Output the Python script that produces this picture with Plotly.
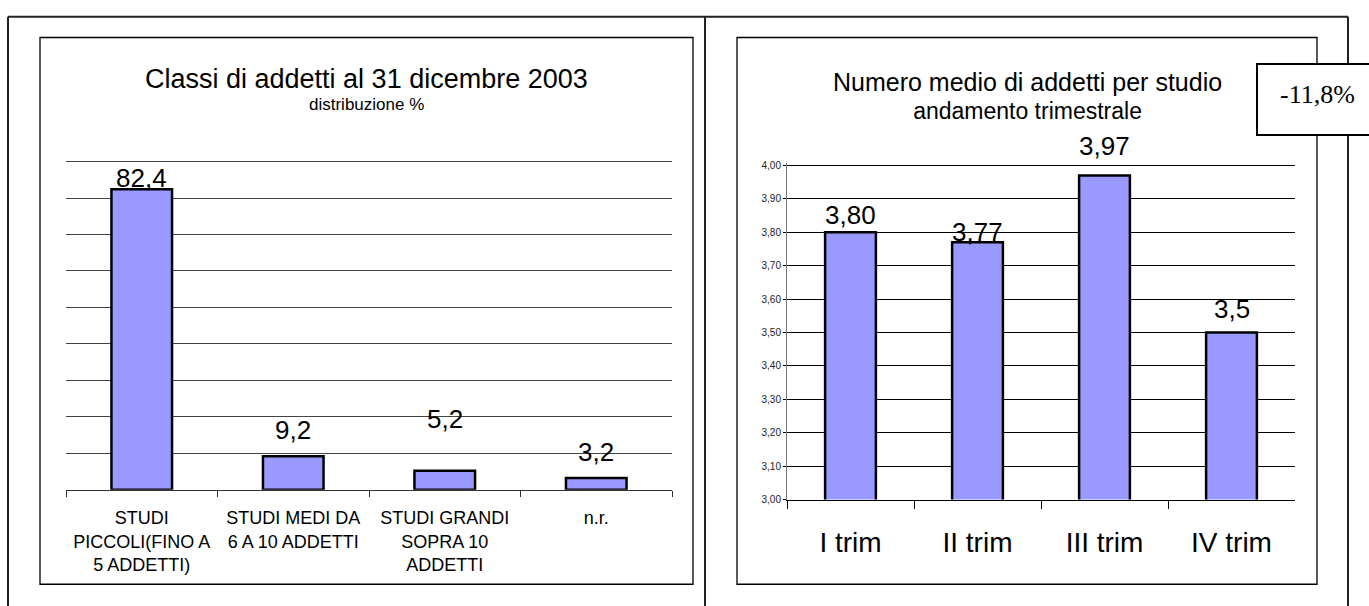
import plotly.graph_objects as go

W, H = 1369, 606

# --- data -------------------------------------------------------------
classi = [
    "STUDI<br>PICCOLI(FINO A<br>5 ADDETTI)",
    "STUDI MEDI DA<br>6 A 10 ADDETTI",
    "STUDI GRANDI<br>SOPRA 10<br>ADDETTI",
    "n.r.",
]
quote = [82.4, 9.2, 5.2, 3.2]
quote_txt = ["82,4", "9,2", "5,2", "3,2"]

trimestri = ["I trim", "II trim", "III trim", "IV trim"]
addetti_medi = [3.80, 3.77, 3.97, 3.5]
addetti_txt = ["3,80", "3,77", "3,97", "3,5"]

variazione = "-11,8%"

titolo_sx = "Classi di addetti al 31 dicembre 2003"
sottotitolo_sx = "distribuzione %"
titolo_dx = "Numero medio di addetti per studio"
sottotitolo_dx = "andamento trimestrale"

# axis ranges (a hair of headroom so the top gridline is drawn)
range_sx = [0, 90.6]
range_dx = [3.0, 4.007]

# --- styling ----------------------------------------------------------
BAR_FILL = "#9999FF"
SANS = "Arial, Liberation Sans, sans-serif"
SERIF = "Times New Roman, Liberation Serif, serif"
GRID_SX = "#444"
GRID_DX = "black"
label_shift_sx = [11, 26, 52, 26]     # px between bar top and value label
label_shift_dx = [17, 10, 30, 24]


def px_x(v):
    return v / W


def px_y(v):
    return 1 - v / H


fig = go.Figure()

bar_style = dict(color=BAR_FILL, line=dict(color="black", width=2.5))

fig.add_trace(go.Bar(x=classi, y=quote, width=0.4, marker=bar_style,
                     xaxis="x", yaxis="y", hoverinfo="skip"))
fig.add_trace(go.Bar(x=trimestri, y=addetti_medi, width=0.4, marker=bar_style,
                     xaxis="x2", yaxis="y2", hoverinfo="skip"))

annotations = []
for cat, val, txt, sh in zip(classi, quote, quote_txt, label_shift_sx):
    annotations.append(dict(x=cat, y=val, xref="x", yref="y", text=txt,
                            showarrow=False, yanchor="middle", yshift=sh,
                            font=dict(family=SANS, size=26, color="black")))
for cat, val, txt, sh in zip(trimestri, addetti_medi, addetti_txt, label_shift_dx):
    annotations.append(dict(x=cat, y=val, xref="x2", yref="y2", text=txt,
                            showarrow=False, yanchor="middle", yshift=sh,
                            font=dict(family=SANS, size=26, color="black")))

# titles
annotations += [
    dict(x=px_x(366.5), y=px_y(77), xref="paper", yref="paper", text=titolo_sx,
         showarrow=False, xanchor="center", yanchor="middle",
         font=dict(family=SANS, size=27, color="black")),
    dict(x=px_x(366.5), y=px_y(103), xref="paper", yref="paper", text=sottotitolo_sx,
         showarrow=False, xanchor="center", yanchor="middle",
         font=dict(family=SANS, size=17, color="black")),
    # two-line title, line spacing driven by the base font size
    dict(x=px_x(1027), y=px_y(94), xref="paper", yref="paper",
         text=(f"<span style='font-size:25px'>{titolo_dx}</span><br>"
               f"<span style='font-size:23px'>{sottotitolo_dx}</span>"),
         showarrow=False, xanchor="center", yanchor="middle", align="center",
         font=dict(family=SANS, size=21.5, color="black")),
    dict(x=px_x(1317), y=px_y(93), xref="paper", yref="paper", text=variazione,
         showarrow=False, xanchor="center", yanchor="middle",
         font=dict(family=SERIF, size=26, color="black")),
]


# frames
def line(x0, y0, x1, y1, width, color):
    return dict(type="line", xref="paper", yref="paper",
                x0=px_x(x0), y0=px_y(y0), x1=px_x(x1), y1=px_y(y1),
                line=dict(color=color, width=width), layer="above")


def rect(x0, y0, x1, y1, width, color, fill="rgba(0,0,0,0)"):
    return dict(type="rect", xref="paper", yref="paper",
                x0=px_x(x0), y0=px_y(y0), x1=px_x(x1), y1=px_y(y1),
                line=dict(color=color, width=width), fillcolor=fill, layer="above")


shapes = [
    line(8, 14, 1348, 14, 2, "#222"),
    line(8, 14, 8, 620, 2, "#222"),
    line(705, 14, 705, 620, 2, "#222"),
    line(1348, 14, 1348, 620, 2, "#222"),
    rect(40, 35, 693, 590, 1.3, "black"),
    rect(737, 35, 1317, 590, 1.3, "black"),
    rect(1257, 62, 1380, 134, 2, "black", fill="white"),
]

fig.update_layout(
    width=W, height=H,
    margin=dict(l=0, r=0, t=0, b=0),
    paper_bgcolor="white", plot_bgcolor="white",
    showlegend=False,
    separators=",.",
    annotations=annotations,
    shapes=shapes,
    xaxis=dict(domain=[px_x(66), px_x(672)], anchor="y", type="category",
               range=[-0.5, 3.5], showgrid=False, showline=True,
               linecolor="#333", linewidth=1, ticks="outside",
               tickson="boundaries", ticklen=6, tickcolor="#333",
               ticklabelstandoff=12,
               tickfont=dict(family=SANS, size=18, color="black"),
               fixedrange=True),
    yaxis=dict(domain=[px_y(494), px_y(158.8)], anchor="x", range=range_sx,
               dtick=10, showgrid=True, gridcolor=GRID_SX, gridwidth=1,
               showticklabels=False, zeroline=False, showline=False,
               ticks="", fixedrange=True),
    xaxis2=dict(domain=[px_x(787), px_x(1295)], anchor="y2", type="category",
                range=[-0.5, 3.5], showgrid=False, showline=True,
                linecolor="black", linewidth=1, ticks="outside",
                tickson="boundaries", ticklen=8, tickcolor="black",
                ticklabelstandoff=18,
                tickfont=dict(family=SANS, size=28, color="black"),
                fixedrange=True),
    yaxis2=dict(domain=[px_y(504), px_y(162.6)], anchor="x2", range=range_dx,
                dtick=0.1, tickformat=".2f", showgrid=True, gridcolor=GRID_DX,
                gridwidth=1, zeroline=False, showline=True, linecolor="#777",
                ticks="outside", ticklen=3, tickcolor="black",
                tickfont=dict(family=SANS, size=10, color="#222"),
                fixedrange=True),
)

fig.write_html("out.html", config={"displayModeBar": False})
